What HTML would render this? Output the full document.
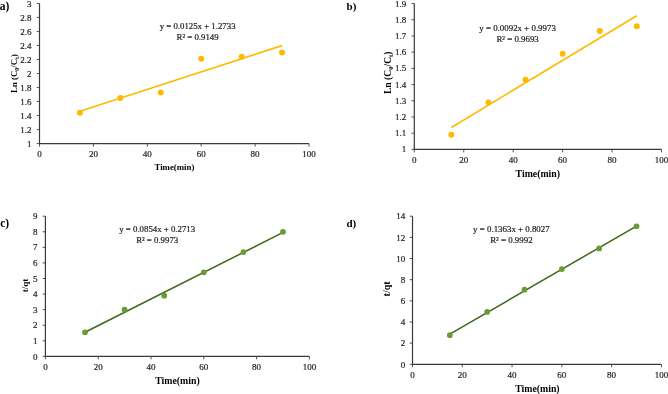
<!DOCTYPE html>
<html><head><meta charset="utf-8"><style>
html,body{margin:0;padding:0;background:#fff;width:668px;height:394px;overflow:hidden}
svg{display:block;will-change:transform}
text{font-family:"Liberation Serif", serif;fill:#262626}
.tk{fill:#1e1e1e;stroke:#1e1e1e;stroke-width:0.2px}
.eq{fill:#222;stroke:#222;stroke-width:0.2px}
.ti{font-weight:bold;fill:#000}
.lb{font-weight:bold;fill:#000}
</style></head><body>
<svg width="668" height="394" viewBox="0 0 668 394">
<rect width="668" height="394" fill="#fff"/>
<line x1="36.70" y1="143.60" x2="39.5" y2="143.60" stroke="#555" stroke-width="1.0"/>
<text x="31.50" y="147.10" text-anchor="end" font-size="9" class="tk">1</text>
<line x1="36.70" y1="129.58" x2="39.5" y2="129.58" stroke="#555" stroke-width="1.0"/>
<text x="31.50" y="133.08" text-anchor="end" font-size="9" class="tk">1.2</text>
<line x1="36.70" y1="115.56" x2="39.5" y2="115.56" stroke="#555" stroke-width="1.0"/>
<text x="31.50" y="119.06" text-anchor="end" font-size="9" class="tk">1.4</text>
<line x1="36.70" y1="101.54" x2="39.5" y2="101.54" stroke="#555" stroke-width="1.0"/>
<text x="31.50" y="105.04" text-anchor="end" font-size="9" class="tk">1.6</text>
<line x1="36.70" y1="87.52" x2="39.5" y2="87.52" stroke="#555" stroke-width="1.0"/>
<text x="31.50" y="91.02" text-anchor="end" font-size="9" class="tk">1.8</text>
<line x1="36.70" y1="73.50" x2="39.5" y2="73.50" stroke="#555" stroke-width="1.0"/>
<text x="31.50" y="77.00" text-anchor="end" font-size="9" class="tk">2</text>
<line x1="36.70" y1="59.48" x2="39.5" y2="59.48" stroke="#555" stroke-width="1.0"/>
<text x="31.50" y="62.98" text-anchor="end" font-size="9" class="tk">2.2</text>
<line x1="36.70" y1="45.46" x2="39.5" y2="45.46" stroke="#555" stroke-width="1.0"/>
<text x="31.50" y="48.96" text-anchor="end" font-size="9" class="tk">2.4</text>
<line x1="36.70" y1="31.44" x2="39.5" y2="31.44" stroke="#555" stroke-width="1.0"/>
<text x="31.50" y="34.94" text-anchor="end" font-size="9" class="tk">2.6</text>
<line x1="36.70" y1="17.42" x2="39.5" y2="17.42" stroke="#555" stroke-width="1.0"/>
<text x="31.50" y="20.92" text-anchor="end" font-size="9" class="tk">2.8</text>
<line x1="36.70" y1="3.40" x2="39.5" y2="3.40" stroke="#555" stroke-width="1.0"/>
<text x="31.50" y="6.90" text-anchor="end" font-size="9" class="tk">3</text>
<line x1="39.50" y1="143.6" x2="39.50" y2="146.60" stroke="#555" stroke-width="1.0"/>
<text x="39.50" y="157.30" text-anchor="middle" font-size="9" class="tk">0</text>
<line x1="93.40" y1="143.6" x2="93.40" y2="146.60" stroke="#555" stroke-width="1.0"/>
<text x="93.40" y="157.30" text-anchor="middle" font-size="9" class="tk">20</text>
<line x1="147.30" y1="143.6" x2="147.30" y2="146.60" stroke="#555" stroke-width="1.0"/>
<text x="147.30" y="157.30" text-anchor="middle" font-size="9" class="tk">40</text>
<line x1="201.20" y1="143.6" x2="201.20" y2="146.60" stroke="#555" stroke-width="1.0"/>
<text x="201.20" y="157.30" text-anchor="middle" font-size="9" class="tk">60</text>
<line x1="255.10" y1="143.6" x2="255.10" y2="146.60" stroke="#555" stroke-width="1.0"/>
<text x="255.10" y="157.30" text-anchor="middle" font-size="9" class="tk">80</text>
<line x1="309.00" y1="143.6" x2="309.00" y2="146.60" stroke="#555" stroke-width="1.0"/>
<text x="309.00" y="157.30" text-anchor="middle" font-size="9" class="tk">100</text>
<path d="M39.5 3.4V143.6H309.0" fill="none" stroke="#3a3a3a" stroke-width="1.2"/>
<line x1="79.92" y1="111.30" x2="282.05" y2="45.58" stroke="#FFBA00" stroke-width="1.7"/>
<circle cx="79.92" cy="112.76" r="3.0" fill="#FFBA00"/>
<circle cx="120.35" cy="98.03" r="3.0" fill="#FFBA00"/>
<circle cx="160.78" cy="92.43" r="3.0" fill="#FFBA00"/>
<circle cx="201.20" cy="58.78" r="3.0" fill="#FFBA00"/>
<circle cx="241.62" cy="56.68" r="3.0" fill="#FFBA00"/>
<circle cx="282.05" cy="52.47" r="3.0" fill="#FFBA00"/>
<text x="197.6" y="29.3" text-anchor="middle" font-size="8.8" class="eq">y = 0.0125x + 1.2733</text>
<text x="197.6" y="39.5" text-anchor="middle" font-size="8.8" class="eq">R² = 0.9149</text>
<text x="174.4" y="170.4" text-anchor="middle" font-size="8.8" class="ti">Time(min)</text>
<text transform="translate(16.7,73.5) rotate(-90)" text-anchor="middle" font-size="8.8" class="ti">Ln (C<tspan font-size="5.98" dy="1.94">0</tspan><tspan dy="-1.94">/C</tspan><tspan font-size="5.98" dy="1.94">t</tspan><tspan dy="-1.94">)</tspan></text>
<text x="-0.2" y="10.2" font-size="11.5" class="lb">a)</text>
<line x1="411.50" y1="149.40" x2="414.3" y2="149.40" stroke="#555" stroke-width="1.0"/>
<text x="406.30" y="152.40" text-anchor="end" font-size="9" class="tk">1</text>
<line x1="411.50" y1="133.19" x2="414.3" y2="133.19" stroke="#555" stroke-width="1.0"/>
<text x="406.30" y="136.19" text-anchor="end" font-size="9" class="tk">1.1</text>
<line x1="411.50" y1="116.99" x2="414.3" y2="116.99" stroke="#555" stroke-width="1.0"/>
<text x="406.30" y="119.99" text-anchor="end" font-size="9" class="tk">1.2</text>
<line x1="411.50" y1="100.78" x2="414.3" y2="100.78" stroke="#555" stroke-width="1.0"/>
<text x="406.30" y="103.78" text-anchor="end" font-size="9" class="tk">1.3</text>
<line x1="411.50" y1="84.58" x2="414.3" y2="84.58" stroke="#555" stroke-width="1.0"/>
<text x="406.30" y="87.58" text-anchor="end" font-size="9" class="tk">1.4</text>
<line x1="411.50" y1="68.37" x2="414.3" y2="68.37" stroke="#555" stroke-width="1.0"/>
<text x="406.30" y="71.37" text-anchor="end" font-size="9" class="tk">1.5</text>
<line x1="411.50" y1="52.17" x2="414.3" y2="52.17" stroke="#555" stroke-width="1.0"/>
<text x="406.30" y="55.17" text-anchor="end" font-size="9" class="tk">1.6</text>
<line x1="411.50" y1="35.96" x2="414.3" y2="35.96" stroke="#555" stroke-width="1.0"/>
<text x="406.30" y="38.96" text-anchor="end" font-size="9" class="tk">1.7</text>
<line x1="411.50" y1="19.76" x2="414.3" y2="19.76" stroke="#555" stroke-width="1.0"/>
<text x="406.30" y="22.76" text-anchor="end" font-size="9" class="tk">1.8</text>
<line x1="411.50" y1="3.55" x2="414.3" y2="3.55" stroke="#555" stroke-width="1.0"/>
<text x="406.30" y="6.55" text-anchor="end" font-size="9" class="tk">1.9</text>
<line x1="414.30" y1="149.4" x2="414.30" y2="152.40" stroke="#555" stroke-width="1.0"/>
<text x="414.30" y="163.00" text-anchor="middle" font-size="9" class="tk">0</text>
<line x1="463.74" y1="149.4" x2="463.74" y2="152.40" stroke="#555" stroke-width="1.0"/>
<text x="463.74" y="163.00" text-anchor="middle" font-size="9" class="tk">20</text>
<line x1="513.18" y1="149.4" x2="513.18" y2="152.40" stroke="#555" stroke-width="1.0"/>
<text x="513.18" y="163.00" text-anchor="middle" font-size="9" class="tk">40</text>
<line x1="562.62" y1="149.4" x2="562.62" y2="152.40" stroke="#555" stroke-width="1.0"/>
<text x="562.62" y="163.00" text-anchor="middle" font-size="9" class="tk">60</text>
<line x1="612.06" y1="149.4" x2="612.06" y2="152.40" stroke="#555" stroke-width="1.0"/>
<text x="612.06" y="163.00" text-anchor="middle" font-size="9" class="tk">80</text>
<line x1="661.50" y1="149.4" x2="661.50" y2="152.40" stroke="#555" stroke-width="1.0"/>
<text x="661.50" y="163.00" text-anchor="middle" font-size="9" class="tk">100</text>
<path d="M414.3 3.55V149.4H661.5" fill="none" stroke="#3a3a3a" stroke-width="1.2"/>
<line x1="451.38" y1="127.47" x2="636.78" y2="15.66" stroke="#FFBA00" stroke-width="1.7"/>
<circle cx="451.38" cy="134.81" r="3.0" fill="#FFBA00"/>
<circle cx="488.46" cy="102.40" r="3.0" fill="#FFBA00"/>
<circle cx="525.54" cy="79.72" r="3.0" fill="#FFBA00"/>
<circle cx="562.62" cy="53.79" r="3.0" fill="#FFBA00"/>
<circle cx="599.70" cy="31.10" r="3.0" fill="#FFBA00"/>
<circle cx="636.78" cy="26.24" r="3.0" fill="#FFBA00"/>
<text x="517.6" y="31.2" text-anchor="middle" font-size="8.9" class="eq">y = 0.0092x + 0.9973</text>
<text x="517.6" y="41.6" text-anchor="middle" font-size="8.9" class="eq">R² = 0.9693</text>
<text x="537.8" y="176.6" text-anchor="middle" font-size="9.8" class="ti">Time(min)</text>
<text transform="translate(391,72.8) rotate(-90)" text-anchor="middle" font-size="9.6" class="ti">Ln (C<tspan font-size="6.53" dy="2.11">0</tspan><tspan dy="-2.11">/C</tspan><tspan font-size="6.53" dy="2.11">t</tspan><tspan dy="-2.11">)</tspan></text>
<text x="346.6" y="9.9" font-size="11" class="lb">b)</text>
<line x1="42.60" y1="356.40" x2="45.4" y2="356.40" stroke="#555" stroke-width="1.0"/>
<text x="37.40" y="359.50" text-anchor="end" font-size="9" class="tk">0</text>
<line x1="42.60" y1="340.82" x2="45.4" y2="340.82" stroke="#555" stroke-width="1.0"/>
<text x="37.40" y="343.92" text-anchor="end" font-size="9" class="tk">1</text>
<line x1="42.60" y1="325.24" x2="45.4" y2="325.24" stroke="#555" stroke-width="1.0"/>
<text x="37.40" y="328.34" text-anchor="end" font-size="9" class="tk">2</text>
<line x1="42.60" y1="309.67" x2="45.4" y2="309.67" stroke="#555" stroke-width="1.0"/>
<text x="37.40" y="312.77" text-anchor="end" font-size="9" class="tk">3</text>
<line x1="42.60" y1="294.09" x2="45.4" y2="294.09" stroke="#555" stroke-width="1.0"/>
<text x="37.40" y="297.19" text-anchor="end" font-size="9" class="tk">4</text>
<line x1="42.60" y1="278.51" x2="45.4" y2="278.51" stroke="#555" stroke-width="1.0"/>
<text x="37.40" y="281.61" text-anchor="end" font-size="9" class="tk">5</text>
<line x1="42.60" y1="262.93" x2="45.4" y2="262.93" stroke="#555" stroke-width="1.0"/>
<text x="37.40" y="266.03" text-anchor="end" font-size="9" class="tk">6</text>
<line x1="42.60" y1="247.36" x2="45.4" y2="247.36" stroke="#555" stroke-width="1.0"/>
<text x="37.40" y="250.46" text-anchor="end" font-size="9" class="tk">7</text>
<line x1="42.60" y1="231.78" x2="45.4" y2="231.78" stroke="#555" stroke-width="1.0"/>
<text x="37.40" y="234.88" text-anchor="end" font-size="9" class="tk">8</text>
<line x1="42.60" y1="216.20" x2="45.4" y2="216.20" stroke="#555" stroke-width="1.0"/>
<text x="37.40" y="219.30" text-anchor="end" font-size="9" class="tk">9</text>
<line x1="45.40" y1="356.4" x2="45.40" y2="359.40" stroke="#555" stroke-width="1.0"/>
<text x="45.40" y="370.00" text-anchor="middle" font-size="9" class="tk">0</text>
<line x1="98.20" y1="356.4" x2="98.20" y2="359.40" stroke="#555" stroke-width="1.0"/>
<text x="98.20" y="370.00" text-anchor="middle" font-size="9" class="tk">20</text>
<line x1="151.00" y1="356.4" x2="151.00" y2="359.40" stroke="#555" stroke-width="1.0"/>
<text x="151.00" y="370.00" text-anchor="middle" font-size="9" class="tk">40</text>
<line x1="203.80" y1="356.4" x2="203.80" y2="359.40" stroke="#555" stroke-width="1.0"/>
<text x="203.80" y="370.00" text-anchor="middle" font-size="9" class="tk">60</text>
<line x1="256.60" y1="356.4" x2="256.60" y2="359.40" stroke="#555" stroke-width="1.0"/>
<text x="256.60" y="370.00" text-anchor="middle" font-size="9" class="tk">80</text>
<line x1="309.40" y1="356.4" x2="309.40" y2="359.40" stroke="#555" stroke-width="1.0"/>
<text x="309.40" y="370.00" text-anchor="middle" font-size="9" class="tk">100</text>
<path d="M45.4 216.2V356.4H309.4" fill="none" stroke="#3a3a3a" stroke-width="1.2"/>
<line x1="85.00" y1="332.22" x2="283.00" y2="232.44" stroke="#3E6816" stroke-width="1.5"/>
<circle cx="85.00" cy="332.25" r="2.85" fill="#6A9A33"/>
<circle cx="124.60" cy="309.67" r="2.85" fill="#6A9A33"/>
<circle cx="164.20" cy="295.65" r="2.85" fill="#6A9A33"/>
<circle cx="203.80" cy="272.28" r="2.85" fill="#6A9A33"/>
<circle cx="243.40" cy="252.03" r="2.85" fill="#6A9A33"/>
<circle cx="283.00" cy="231.78" r="2.85" fill="#6A9A33"/>
<text x="157.2" y="232.3" text-anchor="middle" font-size="8.8" class="eq">y = 0.0854x + 0.2713</text>
<text x="157.2" y="242.5" text-anchor="middle" font-size="8.8" class="eq">R² = 0.9973</text>
<text x="177.5" y="383.5" text-anchor="middle" font-size="9.8" class="ti">Time(min)</text>
<text transform="translate(27.9,285.5) rotate(-90)" text-anchor="middle" font-size="9" class="ti">t/qt</text>
<text x="0.2" y="226.6" font-size="11.5" class="lb">c)</text>
<line x1="409.70" y1="364.30" x2="412.5" y2="364.30" stroke="#555" stroke-width="1.0"/>
<text x="405.20" y="367.50" text-anchor="end" font-size="9" class="tk">0</text>
<line x1="409.70" y1="343.14" x2="412.5" y2="343.14" stroke="#555" stroke-width="1.0"/>
<text x="405.20" y="346.34" text-anchor="end" font-size="9" class="tk">2</text>
<line x1="409.70" y1="321.99" x2="412.5" y2="321.99" stroke="#555" stroke-width="1.0"/>
<text x="405.20" y="325.19" text-anchor="end" font-size="9" class="tk">4</text>
<line x1="409.70" y1="300.83" x2="412.5" y2="300.83" stroke="#555" stroke-width="1.0"/>
<text x="405.20" y="304.03" text-anchor="end" font-size="9" class="tk">6</text>
<line x1="409.70" y1="279.67" x2="412.5" y2="279.67" stroke="#555" stroke-width="1.0"/>
<text x="405.20" y="282.87" text-anchor="end" font-size="9" class="tk">8</text>
<line x1="409.70" y1="258.51" x2="412.5" y2="258.51" stroke="#555" stroke-width="1.0"/>
<text x="405.20" y="261.71" text-anchor="end" font-size="9" class="tk">10</text>
<line x1="409.70" y1="237.36" x2="412.5" y2="237.36" stroke="#555" stroke-width="1.0"/>
<text x="405.20" y="240.56" text-anchor="end" font-size="9" class="tk">12</text>
<line x1="409.70" y1="216.20" x2="412.5" y2="216.20" stroke="#555" stroke-width="1.0"/>
<text x="405.20" y="219.40" text-anchor="end" font-size="9" class="tk">14</text>
<line x1="412.50" y1="364.3" x2="412.50" y2="367.30" stroke="#555" stroke-width="1.0"/>
<text x="412.50" y="378.10" text-anchor="middle" font-size="9" class="tk">0</text>
<line x1="462.28" y1="364.3" x2="462.28" y2="367.30" stroke="#555" stroke-width="1.0"/>
<text x="462.28" y="378.10" text-anchor="middle" font-size="9" class="tk">20</text>
<line x1="512.06" y1="364.3" x2="512.06" y2="367.30" stroke="#555" stroke-width="1.0"/>
<text x="512.06" y="378.10" text-anchor="middle" font-size="9" class="tk">40</text>
<line x1="561.84" y1="364.3" x2="561.84" y2="367.30" stroke="#555" stroke-width="1.0"/>
<text x="561.84" y="378.10" text-anchor="middle" font-size="9" class="tk">60</text>
<line x1="611.62" y1="364.3" x2="611.62" y2="367.30" stroke="#555" stroke-width="1.0"/>
<text x="611.62" y="378.10" text-anchor="middle" font-size="9" class="tk">80</text>
<line x1="661.40" y1="364.3" x2="661.40" y2="367.30" stroke="#555" stroke-width="1.0"/>
<text x="661.40" y="378.10" text-anchor="middle" font-size="9" class="tk">100</text>
<path d="M412.5 216.2V364.3H661.4" fill="none" stroke="#3a3a3a" stroke-width="1.2"/>
<line x1="449.83" y1="334.18" x2="636.51" y2="226.04" stroke="#3E6816" stroke-width="1.5"/>
<circle cx="449.83" cy="335.21" r="2.85" fill="#6A9A33"/>
<circle cx="487.17" cy="311.94" r="2.85" fill="#6A9A33"/>
<circle cx="524.50" cy="289.72" r="2.85" fill="#6A9A33"/>
<circle cx="561.84" cy="269.09" r="2.85" fill="#6A9A33"/>
<circle cx="599.17" cy="248.46" r="2.85" fill="#6A9A33"/>
<circle cx="636.51" cy="226.25" r="2.85" fill="#6A9A33"/>
<text x="511.4" y="232.3" text-anchor="middle" font-size="8.9" class="eq">y = 0.1363x + 0.8027</text>
<text x="511.4" y="242.5" text-anchor="middle" font-size="8.9" class="eq">R² = 0.9992</text>
<text x="537.4" y="391.5" text-anchor="middle" font-size="9.8" class="ti">Time(min)</text>
<text transform="translate(390,288.9) rotate(-90)" text-anchor="middle" font-size="10" class="ti">t/qt</text>
<text x="346.4" y="226.6" font-size="11" class="lb">d)</text>
</svg>
</body></html>
